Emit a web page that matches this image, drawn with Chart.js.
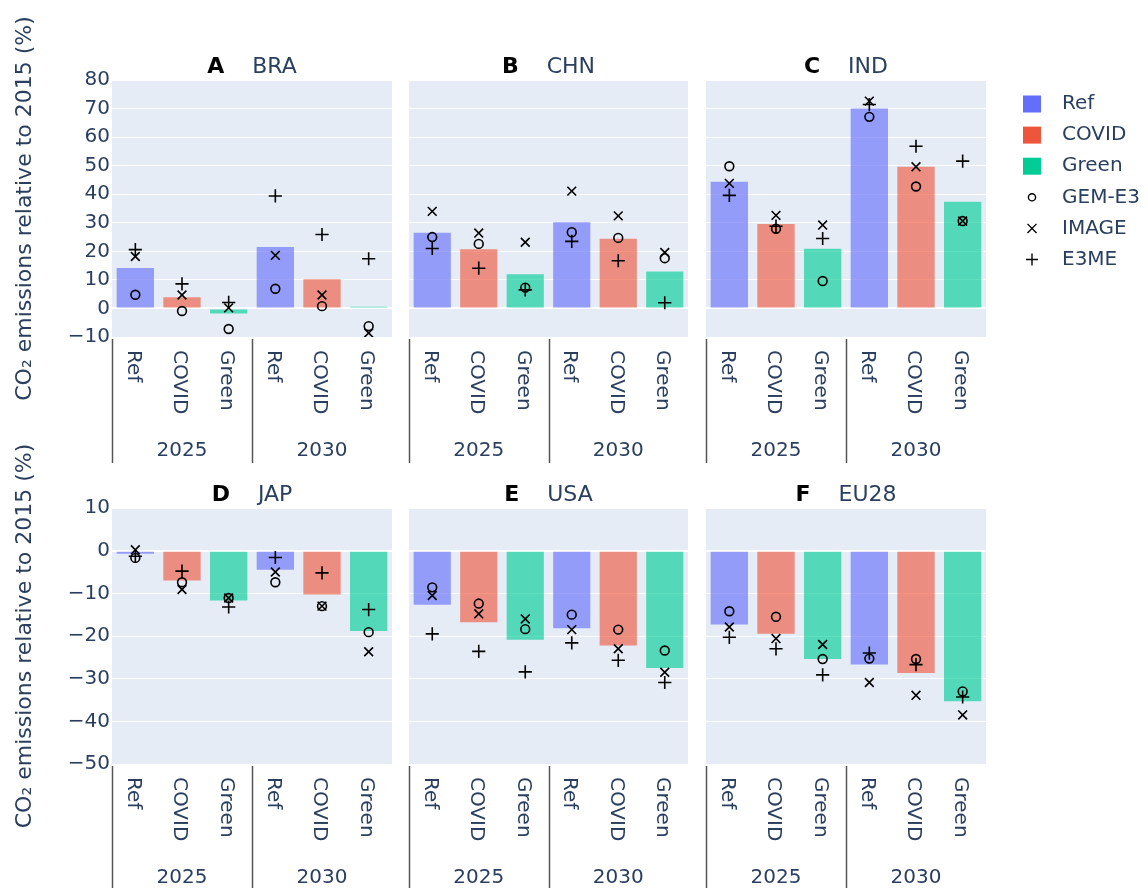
<!DOCTYPE html>
<html>
<head>
<meta charset="utf-8">
<title>CO2 emissions relative to 2015</title>
<script src="https://cdn.jsdelivr.net/npm/chart.js@4.4.1/dist/chart.umd.min.js"></script>
<style>
  html, body { margin: 0; padding: 0; background: #ffffff; }
  #wrap { position: relative; width: 1148px; height: 888px; overflow: hidden; }
  #wrap canvas { position: absolute; left: 0; top: 0; }
</style>
</head>
<body>
<div id="wrap"></div>
<script>
// ---- data -------------------------------------------------------------
const regions = ['BRA', 'CHN', 'IND', 'JAP', 'USA', 'EU28'];
const panelLetters = ['A', 'B', 'C', 'D', 'E', 'F'];
const scenarios = ['Ref', 'COVID', 'Green'];
const years = ['2025', '2030'];
const modelNames = ['GEM-E3', 'IMAGE', 'E3ME'];

// every list runs: 2025 Ref, 2025 COVID, 2025 Green, 2030 Ref, 2030 COVID, 2030 Green
const braBars  = [14.2, 3.9, -1.8, 21.5, 10.2, 0.6];
const braGem   = [4.8, -0.9, -7.2, 6.9, 0.8, -6.2];
const braImage = [18.2, 4.7, 0.2, 18.6, 4.7, -8.6];
const braE3me  = [20.6, 8.6, 2.1, 39.4, 25.9, 17.4];

const chnBars  = [26.5, 20.7, 12.0, 30.2, 24.4, 12.9];
const chnGem   = [25.0, 22.6, 7.3, 26.7, 24.7, 17.6];
const chnImage = [34.0, 26.4, 23.2, 41.1, 32.4, 19.6];
const chnE3me  = [21.0, 14.1, 6.5, 23.5, 16.7, 2.0];

const indBars  = [44.4, 29.6, 20.9, 70.0, 49.6, 37.4];
const indGem   = [49.8, 27.9, 9.6, 67.1, 42.7, 30.6];
const indImage = [43.8, 32.6, 29.2, 72.6, 49.6, 30.6];
const indE3me  = [39.6, 28.8, 24.5, 71.4, 56.8, 51.6];

const japBars  = [-0.7, -7.0, -11.7, -4.5, -10.3, -18.8];
const japGem   = [-1.7, -7.4, -11.1, -7.4, -13.0, -19.1];
const japImage = [0.2, -9.1, -11.1, -5.0, -13.0, -23.7];
const japE3me  = [-1.3, -4.8, -13.2, -1.6, -5.2, -13.8];

const usaBars  = [-12.7, -16.8, -20.9, -18.2, -22.2, -27.5];
const usaGem   = [-8.6, -12.4, -18.4, -15.0, -18.5, -23.4];
const usaImage = [-10.5, -14.8, -16.0, -18.5, -23.0, -28.5];
const usaE3me  = [-19.5, -23.6, -28.4, -21.6, -25.7, -30.9];

const eu28Bars  = [-17.3, -19.5, -25.4, -26.7, -28.7, -35.3];
const eu28Gem   = [-14.2, -15.5, -25.4, -25.3, -25.4, -33.0];
const eu28Image = [-17.9, -20.6, -22.0, -30.9, -33.9, -38.5];
const eu28E3me  = [-20.3, -23.0, -29.1, -24.0, -26.7, -34.3];

const topRowRange = [-10, 80];
const bottomRowRange = [-50, 10];
const yTickStep = 10;

// ---- look and layout --------------------------------------------------
const FONT = '"DejaVu Sans", Verdana, sans-serif';
const INK = '#2a3f5f';
const PLOT_BG = '#e5ecf6';
const scenarioColors = ['#636efa', '#ef553b', '#00cc96'];
const BAR_ALPHA = 0.63;
const PAGE_W = 1148, PAGE_H = 888;
const colX = [[112, 392], [409, 688], [706, 986]];
const rowY = [[80, 337], [508, 764]];
const TICK_SIZE = 20;
const TITLE_SIZE = 22;

Chart.defaults.font.family = FONT;
Chart.defaults.font.size = TICK_SIZE;
Chart.defaults.color = INK;

function withAlpha(hex, a) {
  const n = parseInt(hex.slice(1), 16);
  return `rgba(${(n >> 16) & 255}, ${(n >> 8) & 255}, ${n & 255}, ${a})`;
}

const panelSeries = [
  [braBars, braGem, braImage, braE3me],
  [chnBars, chnGem, chnImage, chnE3me],
  [indBars, indGem, indImage, indE3me],
  [japBars, japGem, japImage, japE3me],
  [usaBars, usaGem, usaImage, usaE3me],
  [eu28Bars, eu28Gem, eu28Image, eu28E3me]
];

const markerStyles = [
  { pointStyle: 'circle', radius: 4.4 },
  { pointStyle: 'crossRot', radius: 6.2 },
  { pointStyle: 'cross', radius: 6.6 }
];

// ---- drawing helpers --------------------------------------------------
function drawMarker(ctx, style, x, y, r) {
  ctx.beginPath();
  if (style === 'circle') {
    ctx.arc(x, y, r, 0, Math.PI * 2);
  } else if (style === 'cross') {
    ctx.moveTo(x - r, y); ctx.lineTo(x + r, y);
    ctx.moveTo(x, y - r); ctx.lineTo(x, y + r);
  } else {
    const d = r * Math.SQRT1_2;
    ctx.moveTo(x - d, y - d); ctx.lineTo(x + d, y + d);
    ctx.moveTo(x + d, y - d); ctx.lineTo(x - d, y + d);
  }
  ctx.stroke();
}

const panelDecor = {
  id: 'panelDecor',
  beforeDraw(chart) {
    const { ctx, chartArea: a } = chart;
    ctx.save();
    ctx.fillStyle = PLOT_BG;
    ctx.fillRect(a.left, a.top, a.right - a.left, a.bottom - a.top);
    ctx.restore();
  },
  afterDraw(chart, args, opts) {
    const { ctx, chartArea: a } = chart;
    const xs = chart.scales.x;
    ctx.save();

    // panel heading: bold letter, then the region code
    const cx = (a.left + a.right) / 2;
    ctx.textBaseline = 'alphabetic';
    ctx.font = `bold ${TITLE_SIZE}px ${FONT}`;
    const wL = ctx.measureText(opts.letter).width;
    ctx.font = `${TITLE_SIZE}px ${FONT}`;
    const gapTxt = '    ';
    const wG = ctx.measureText(gapTxt).width;
    const wR = ctx.measureText(opts.region).width;
    const tx = cx - (wL + wG + wR) / 2;
    ctx.textAlign = 'left';
    ctx.font = `bold ${TITLE_SIZE}px ${FONT}`;
    ctx.fillStyle = '#000000';
    ctx.fillText(opts.letter, tx, a.top - 7);
    ctx.font = `${TITLE_SIZE}px ${FONT}`;
    ctx.fillStyle = INK;
    ctx.fillText(opts.region, tx + wL + wG, a.top - 7);

    // scenario labels, turned to read downwards
    ctx.font = `${TICK_SIZE}px ${FONT}`;
    ctx.fillStyle = INK;
    ctx.textAlign = 'left';
    ctx.textBaseline = 'middle';
    chart.data.labels.forEach((lab, i) => {
      const x = xs.getPixelForValue(i);
      ctx.save();
      ctx.translate(x - 2.5, a.bottom + 13);
      ctx.rotate(Math.PI / 2);
      ctx.fillText(lab, 0, 0);
      ctx.restore();
    });

    // year groups with divider lines
    const per = scenarios.length;
    ctx.strokeStyle = '#555555';
    ctx.lineWidth = 1.5;
    years.forEach((yr, g) => {
      const first = g * per, last = first + per - 1;
      const p0 = xs.getPixelForValue(first), p1 = xs.getPixelForValue(last);
      const half = (xs.getPixelForValue(1) - xs.getPixelForValue(0)) / 2;
      const xl = Math.round(p0 - half) + 0.5;
      ctx.beginPath();
      ctx.moveTo(xl, a.bottom + 2);
      ctx.lineTo(xl, a.bottom + 126);
      ctx.stroke();
      ctx.textAlign = 'center';
      ctx.textBaseline = 'middle';
      ctx.fillText(yr, (p0 + p1) / 2, a.bottom + 114);
    });

    // shared legend at the right edge of the page
    if (opts.legend) {
      const lx = 1032, textX = 1062, y0 = 104, step = 31.1;
      ctx.textAlign = 'left';
      ctx.textBaseline = 'middle';
      ctx.font = `${TICK_SIZE}px ${FONT}`;
      scenarios.forEach((s, i) => {
        const y = y0 + i * step;
        ctx.fillStyle = scenarioColors[i];
        ctx.fillRect(lx - 9, y - 8.5, 18, 17);
        ctx.fillStyle = INK;
        ctx.fillText(s, textX, y);
      });
      modelNames.forEach((m, j) => {
        const y = y0 + (scenarios.length + j) * step;
        ctx.strokeStyle = '#000000';
        ctx.lineWidth = 1.4;
        const r = j === 0 ? 3.6 : (j === 1 ? 6.4 : 6.0);
        drawMarker(ctx, markerStyles[j].pointStyle, lx, y, r);
        ctx.fillStyle = INK;
        ctx.fillText(m, textX, y);
      });
    }
    ctx.restore();
  }
};

function formatTick(v) {
  return v < 0 ? '\u2212' + Math.abs(v) : String(v);
}

// ---- build the six panels ---------------------------------------------
const wrap = document.getElementById('wrap');
const xLabels = years.flatMap(() => scenarios);

regions.forEach((region, p) => {
  const row = Math.floor(p / 3), col = p % 3;
  const [x0, x1] = colX[col];
  const [y0, y1] = rowY[row];
  const range = row === 0 ? topRowRange : bottomRowRange;
  const [bars, gem, image, e3me] = panelSeries[p];

  const canvas = document.createElement('canvas');
  canvas.width = PAGE_W; canvas.height = PAGE_H;
  canvas.style.width = PAGE_W + 'px'; canvas.style.height = PAGE_H + 'px';
  wrap.appendChild(canvas);

  const barSets = scenarios.map((s, k) => ({
    type: 'bar',
    label: s,
    data: bars.map((v, i) => (i % scenarios.length === k ? v : null)),
    backgroundColor: withAlpha(scenarioColors[k], BAR_ALPHA),
    borderWidth: 0,
    skipNull: true,
    barPercentage: 0.8,
    categoryPercentage: 1.0,
    order: 2
  }));

  const markerSets = [gem, image, e3me].map((vals, j) => ({
    type: 'line',
    label: modelNames[j],
    data: vals,
    showLine: false,
    pointStyle: markerStyles[j].pointStyle,
    pointRadius: markerStyles[j].radius,
    pointBorderWidth: 1.6,
    pointBorderColor: '#000000',
    pointBackgroundColor: 'rgba(0,0,0,0)',
    order: 1
  }));

  const leftCol = col === 0;

  new Chart(canvas, {
    data: { labels: xLabels, datasets: [...barSets, ...markerSets] },
    options: {
      responsive: false,
      animation: false,
      devicePixelRatio: 1,
      events: [],
      layout: {
        padding: { left: leftCol ? 0 : x0, top: y0, right: PAGE_W - x1, bottom: PAGE_H - y1 }
      },
      plugins: {
        legend: { display: false },
        tooltip: { enabled: false },
        panelDecor: { letter: panelLetters[p], region: region, legend: p === 2 }
      },
      scales: {
        x: {
          type: 'category',
          grid: { display: false },
          border: { display: false },
          ticks: { display: false },
          afterFit: (s) => { s.height = 0; }
        },
        y: {
          min: range[0],
          max: range[1],
          border: { display: false },
          grid: {
            color: '#ffffff',
            drawTicks: false,
            lineWidth: (c) => (c.tick && c.tick.value === 0 ? 2 : 1)
          },
          ticks: {
            display: leftCol,
            stepSize: yTickStep,
            padding: 2,
            color: INK,
            font: { size: TICK_SIZE },
            callback: (v) => formatTick(v)
          },
          title: {
            display: leftCol,
            text: 'CO\u2082 emissions relative to 2015 (%)',
            color: INK,
            font: { size: TITLE_SIZE },
            padding: { top: 12.5, bottom: 0 }
          },
          afterFit: (s) => { s.width = leftCol ? x0 : 0; }
        }
      }
    },
    plugins: [panelDecor]
  });
});
</script>
</body>
</html>
